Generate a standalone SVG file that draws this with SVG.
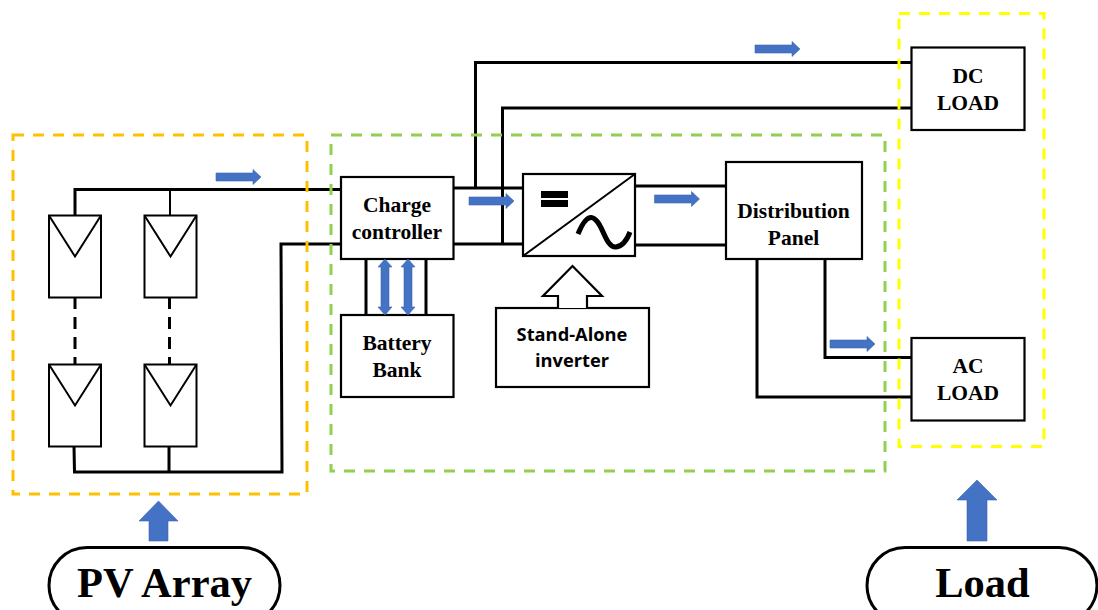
<svg xmlns="http://www.w3.org/2000/svg" width="1098" height="610" viewBox="0 0 1098 610">
<style>
.box{fill:#fff;stroke:#000;stroke-width:2.2}
.w{fill:none;stroke:#000;stroke-width:3;stroke-linejoin:miter}
.thin{stroke-width:2}
.dash{fill:none;stroke-width:3;stroke-dasharray:11 9}
.blue{fill:#4472c4;stroke:#3a64ad;stroke-width:.6}
.t{font-family:"Liberation Serif","Times New Roman",serif;font-weight:700;font-size:21.5px;fill:#000;text-anchor:middle}
.s{font-family:"Open Sans","Liberation Sans",sans-serif;font-weight:700;font-size:18.3px;fill:#000;text-anchor:middle}
.big{font-size:42.5px}
.pv{fill:#fff;stroke:#000;stroke-width:2}
.pvv{fill:none;stroke:#000;stroke-width:2}
</style>
<defs>
<polygon id="small" class="blue" points="0,-4 37,-4 37,-7.5 45,0 37,7.5 37,4 0,4"/>
<polygon id="dbl" class="blue" points="0,0 7,8 4,8 4,48 7,48 0,56 -7,48 -4,48 -4,8 -7,8"/>
<g id="panel"><rect class="pv" x="0" y="0" width="52" height="82"/><path class="pvv" d="M0 0L26 41L52 0"/></g>
</defs>
<g id="connectors">
<path class="w" d="M75 215V189.500H341"/>
<path class="w thin" d="M170 189.500V215"/>
<path class="w" d="M74 446L74.500 472H282L281 244H341"/>
<path class="w" d="M169 446V472"/>
<path class="w" d="M75 297V364.500M169.500 297V364.500" style="stroke-dasharray:12 8"/>
<path class="w" d="M453 188H523M453 244H523"/>
<path class="w" d="M475.500 188V62.500H911.500M502.500 244V108H911.500"/>
<path class="w" d="M366 259V315M426 259V315"/>
<path class="w" d="M635 186H726M635 245H726"/>
<path class="w" d="M825 259V357.500H911.500M757 259V397H911.500"/>
</g>
<g id="pv-panel-1"><use href="#panel" x="49" y="215.500"/></g>
<g id="pv-panel-2"><use href="#panel" x="144.500" y="215.500"/></g>
<g id="pv-panel-3"><use href="#panel" x="49" y="364.500"/></g>
<g id="pv-panel-4"><use href="#panel" x="144.500" y="364.500"/></g>
<g id="charge-controller"><rect class="box" x="341" y="177" width="112.500" height="82"/><text class="t" x="397" y="212">Charge</text><text class="t" x="397" y="239">controller</text></g>
<g id="battery-bank"><rect class="box" x="341" y="315" width="112.500" height="82"/><text class="t" x="397" y="350">Battery</text><text class="t" x="397" y="377">Bank</text></g>
<g id="inverter"><rect class="box" x="523" y="174" width="112" height="82"/>
<path d="M523 256L635 174" fill="none" stroke="#000" stroke-width="2"/>
<rect x="541" y="191" width="27" height="7"/><rect x="541" y="200" width="27" height="7"/>
<path d="M578 234C583 222 588 216 593 218C603 222 605 248 616 247C623 246 627 240 630 232" fill="none" stroke="#000" stroke-width="5"/></g>
<g id="stand-alone-inverter"><rect class="box" x="496" y="308" width="153" height="79"/>
<path class="box" d="M558 308V296H543L572.500 266L602 296H587V308"/>
<text class="s" x="572" y="340.500">Stand-Alone</text><text class="s" x="572" y="367">inverter</text></g>
<g id="distribution-panel"><rect class="box" x="726" y="162" width="136" height="97"/><text class="t" x="793.500" y="218">Distribution</text><text class="t" x="793.500" y="245">Panel</text></g>
<g id="dc-load"><rect class="box" x="911.500" y="47.500" width="113" height="82.500"/><text class="t" x="968" y="83">DC</text><text class="t" x="968" y="110">LOAD</text></g>
<g id="ac-load"><rect class="box" x="911.500" y="338" width="113" height="82.500"/><text class="t" x="968" y="373">AC</text><text class="t" x="968" y="400">LOAD</text></g>
<g id="groups">
<rect class="dash" x="13" y="135" width="294" height="359" stroke="#ffc000"/>
<rect class="dash" x="331" y="135" width="554" height="336" stroke="#92d050"/>
<rect class="dash" x="899" y="13.500" width="145" height="433" stroke="#ffff00"/>
</g>
<g id="flow-arrows">
<use href="#small" x="216" y="177"/>
<use href="#small" x="755" y="49"/>
<use href="#small" x="469" y="201"/>
<use href="#small" x="654.500" y="199"/>
<use href="#small" x="830" y="344"/>
<use href="#dbl" x="385" y="259"/>
<use href="#dbl" x="408" y="259"/>
<polygon class="blue" points="149,541 149,521 139,521 158.500,501 178,521 168,521 168,541"/>
<polygon class="blue" points="967,541 967,500 957,500 977,480 997,500 987,500 987,541"/>
</g>
<g id="pv-array"><rect x="49" y="547.500" width="231" height="76" rx="38" ry="38" fill="#fff" stroke="#000" stroke-width="3"/><text class="t big" x="164.500" y="597">PV Array</text></g>
<g id="load"><rect x="867" y="547.500" width="230" height="76" rx="38" ry="38" fill="#fff" stroke="#000" stroke-width="3"/><text class="t big" x="982.500" y="597">Load</text></g>
</svg>
